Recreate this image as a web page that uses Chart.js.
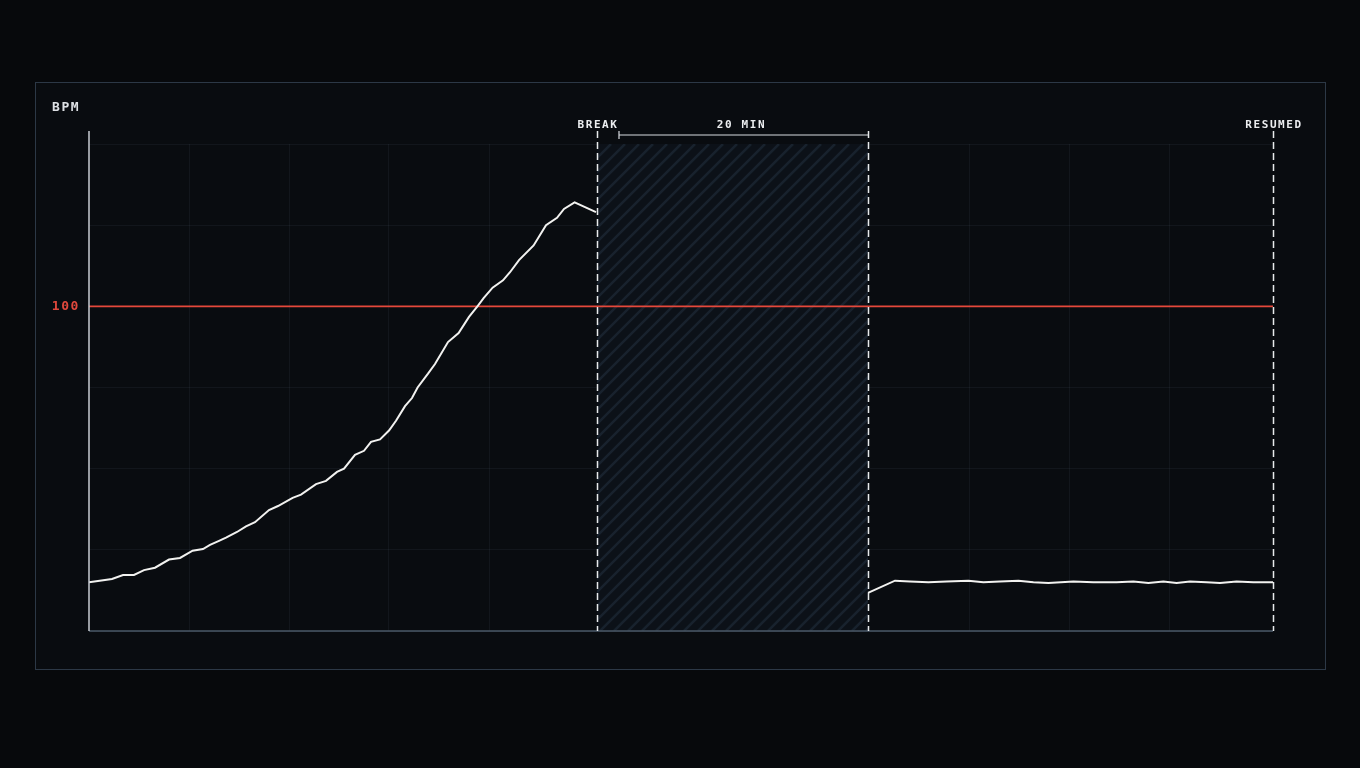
<!DOCTYPE html>
<html>
<head>
<meta charset="utf-8">
<title>BPM break</title>
<script src="https://cdn.jsdelivr.net/npm/chart.js@4.4.1/dist/chart.umd.min.js"></script>
<style>
    html, body { margin: 0; padding: 0; background: #07090c; }
    #wrap { width: 1360px; height: 768px; }
</style>
</head>
<body>
<div id="wrap"><canvas id="bpmChart" width="1360" height="768"></canvas></div>
<script>
// minutes from start, heart rate readings before the break
const beforeTime = [0, 1.15, 1.7, 2.25, 2.75, 3.3, 4.0, 4.55, 5.18, 5.7, 6.05, 6.5, 6.85, 7.4, 7.85, 8.3,
    9.0, 9.45, 10.18, 10.6, 11.35, 11.85, 12.4, 12.75, 13.3, 13.75, 14.1, 14.55, 15.0, 15.35, 15.8, 16.15,
    16.43, 16.95, 17.3, 17.95, 18.48, 19.0, 19.45, 19.73, 20.18, 20.7, 21.05, 21.5, 22.23, 22.85, 23.4,
    23.75, 24.28, 25.35];
const beforeBpm = [66.0, 66.4, 66.9, 66.9, 67.5, 67.8, 68.8, 69.0, 69.9, 70.1, 70.6, 71.1, 71.5, 72.2, 72.9, 73.4,
    74.9, 75.4, 76.4, 76.8, 78.1, 78.5, 79.6, 80.0, 81.7, 82.2, 83.3, 83.6, 84.7, 85.9, 87.7, 88.7,
    90.0, 91.7, 92.9, 95.6, 96.7, 98.7, 100.1, 101.0, 102.3, 103.2, 104.2, 105.7, 107.5, 110.0, 110.9,
    112.0, 112.8, 111.6];

// readings after the break
const afterTime = [38.95, 40.3, 41.05, 41.97, 42.88, 43.97, 44.72, 45.55, 46.47, 47.22, 47.97, 49.22,
    50.22, 51.38, 52.22, 52.97, 53.72, 54.38, 55.05, 55.88, 56.55, 57.38, 58.22, 59.2];
const afterBpm = [64.7, 66.2, 66.1, 66.0, 66.1, 66.2, 66.0, 66.1, 66.2, 66.0, 65.9, 66.1,
    66.0, 66.0, 66.1, 65.9, 66.1, 65.9, 66.1, 66.0, 65.9, 66.1, 66.0, 66.0];

const breakStart = 25.4;
const breakEnd = 38.95;
const resumedAt = 59.2;
const threshold = 100;
const gridX = [5, 10, 15, 20, 44, 49, 54];
const yMin = 60;
const yMax = 120;
const yStep = 10;

const MONO = '"DejaVu Sans Mono", "Liberation Mono", monospace';

const toPoints = (xs, ys) => xs.map((x, i) => ({ x: x, y: ys[i] }));

const overlayPlugin = {
    id: 'overlay',
    beforeDraw(chart) {
        const ctx = chart.ctx;
        ctx.save();
        ctx.fillStyle = '#07090c';
        ctx.fillRect(0, 0, chart.width, chart.height);
        ctx.fillStyle = '#090c10';
        ctx.fillRect(35, 82, 1290, 587);
        ctx.strokeStyle = '#2c3846';
        ctx.lineWidth = 1;
        ctx.strokeRect(35.5, 82.5, 1290, 587);
        ctx.restore();
    },
    beforeDatasetsDraw(chart) {
        const ctx = chart.ctx;
        const xs = chart.scales.x;
        const area = chart.chartArea;
        const x0 = xs.getPixelForValue(breakStart);
        const x1 = xs.getPixelForValue(breakEnd);
        ctx.save();
        ctx.fillStyle = '#0c1118';
        ctx.fillRect(x0, area.top, x1 - x0, area.bottom - area.top);
        ctx.beginPath();
        ctx.rect(x0, area.top, x1 - x0, area.bottom - area.top);
        ctx.clip();
        ctx.strokeStyle = 'rgba(62, 84, 110, 0.26)';
        ctx.lineWidth = 2.5;
        const h = area.bottom - area.top;
        for (let s = x0 - h; s < x1 + h; s += 14) {
            ctx.beginPath();
            ctx.moveTo(s, area.bottom);
            ctx.lineTo(s + h, area.top);
            ctx.stroke();
        }
        ctx.restore();
    },
    afterDatasetsDraw(chart) {
        const ctx = chart.ctx;
        const xs = chart.scales.x;
        const ys = chart.scales.y;
        const area = chart.chartArea;
        const top = 131;

        ctx.save();
        // bottom axis
        ctx.strokeStyle = '#4a5867';
        ctx.lineWidth = 1.5;
        ctx.beginPath();
        ctx.moveTo(area.left, area.bottom);
        ctx.lineTo(area.right, area.bottom);
        ctx.stroke();

        // y axis
        ctx.strokeStyle = '#c9cdd3';
        ctx.beginPath();
        ctx.moveTo(area.left, top);
        ctx.lineTo(area.left, area.bottom);
        ctx.stroke();

        // dashed markers
        ctx.strokeStyle = '#e8eaec';
        ctx.lineWidth = 1.5;
        ctx.setLineDash([7, 4]);
        [breakStart, breakEnd, resumedAt].forEach(v => {
            const px = Math.round(xs.getPixelForValue(v)) + 0.5;
            ctx.beginPath();
            ctx.moveTo(px, top);
            ctx.lineTo(px, area.bottom);
            ctx.stroke();
        });
        ctx.setLineDash([]);

        // bracket for break length
        const bx0 = xs.getPixelForValue(breakStart) + 22;
        const bx1 = xs.getPixelForValue(breakEnd);
        ctx.strokeStyle = '#d8dbdf';
        ctx.lineWidth = 1.2;
        ctx.beginPath();
        ctx.moveTo(bx0, top + 4);
        ctx.lineTo(bx1, top + 4);
        ctx.moveTo(bx0, top);
        ctx.lineTo(bx0, top + 8);
        ctx.stroke();

        // labels
        ctx.fillStyle = '#eceef0';
        ctx.textBaseline = 'middle';
        ctx.font = '600 11px ' + MONO;
        ctx.letterSpacing = '1.6px';
        ctx.textAlign = 'center';
        ctx.fillText('BREAK', xs.getPixelForValue(breakStart) + 1, top - 6);
        ctx.fillText('RESUMED', xs.getPixelForValue(resumedAt) + 1, top - 6);
        ctx.fillText('20 MIN', (bx0 + bx1) / 2 - 2, top - 6);

        ctx.font = '600 13px ' + MONO;
        ctx.letterSpacing = '1.6px';
        ctx.textAlign = 'left';
        ctx.fillStyle = '#dde0e4';
        ctx.fillText('BPM', 52, 108);

        ctx.textAlign = 'right';
        ctx.fillStyle = '#e0483c';
        ctx.fillText(String(threshold), 80, ys.getPixelForValue(threshold));
        ctx.restore();
    }
};

const ctx = document.getElementById('bpmChart');
new Chart(ctx, {
    type: 'line',
    data: {
        datasets: [
            {
                label: 'threshold',
                data: [{ x: 0, y: threshold }, { x: resumedAt, y: threshold }],
                borderColor: '#e5483b',
                borderWidth: 1.6,
                pointRadius: 0,
                order: 3
            },
            {
                label: 'before',
                data: toPoints(beforeTime, beforeBpm),
                borderColor: '#f2f2f0',
                borderWidth: 2,
                pointRadius: 0,
                tension: 0,
                order: 1
            },
            {
                label: 'after',
                data: toPoints(afterTime, afterBpm),
                borderColor: '#f2f2f0',
                borderWidth: 2,
                pointRadius: 0,
                tension: 0,
                order: 1
            }
        ]
    },
    options: {
        responsive: false,
        animation: false,
        devicePixelRatio: 1,
        layout: { padding: { left: 89, right: 87, top: 144, bottom: 137 } },
        plugins: {
            legend: { display: false },
            tooltip: { enabled: false }
        },
        scales: {
            x: {
                type: 'linear',
                min: 0,
                max: resumedAt,
                afterBuildTicks: axis => { axis.ticks = gridX.map(v => ({ value: v })); },
                ticks: { display: false },
                border: { display: false },
                grid: { color: 'rgba(110, 130, 150, 0.09)', lineWidth: 1, drawTicks: false }
            },
            y: {
                min: yMin,
                max: yMax,
                ticks: { display: false, stepSize: yStep },
                border: { display: false },
                grid: { color: 'rgba(110, 130, 150, 0.09)', lineWidth: 1, drawTicks: false }
            }
        }
    },
    plugins: [overlayPlugin]
});
</script>
</body>
</html>
